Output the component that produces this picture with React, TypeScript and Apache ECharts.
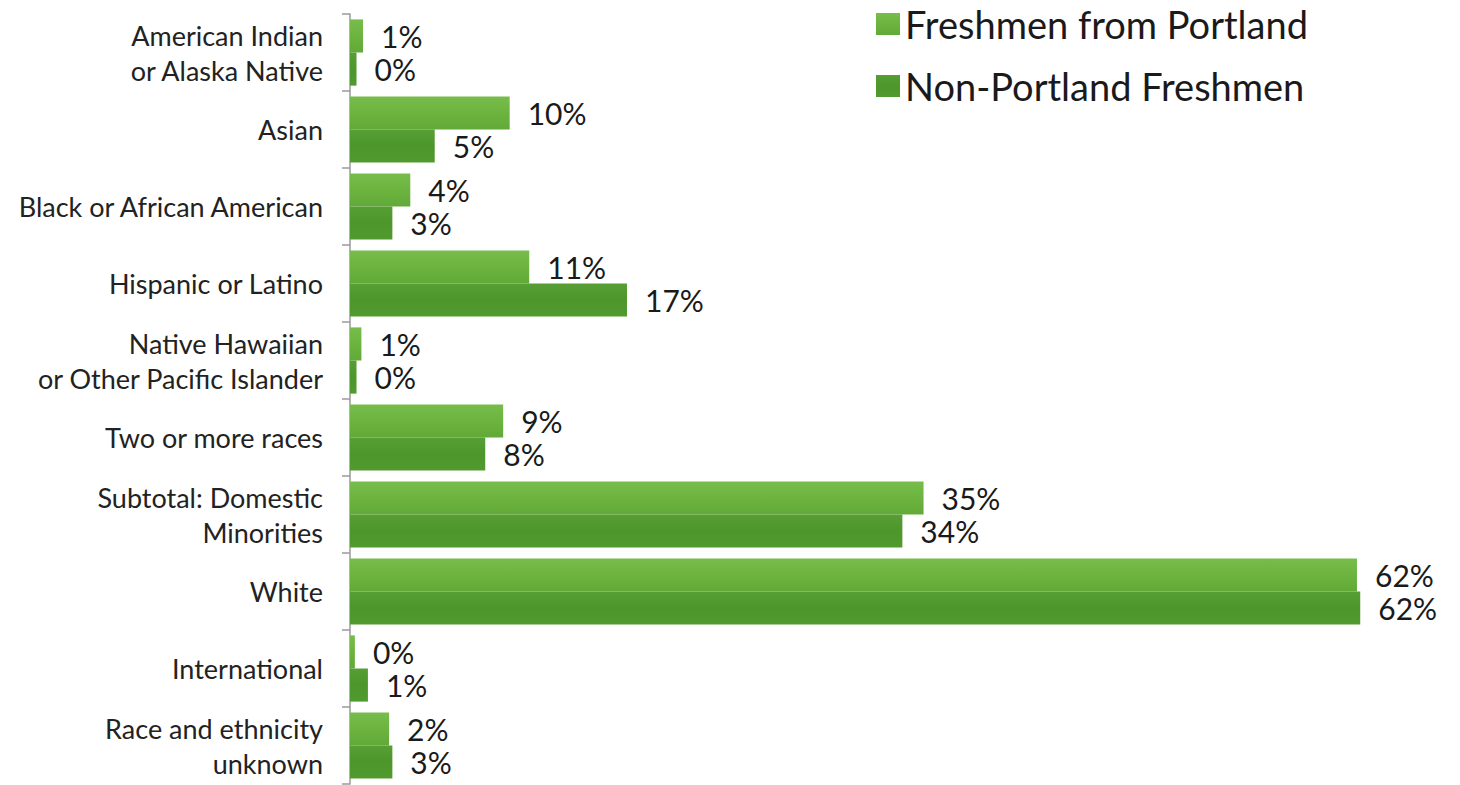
import React, { useEffect, useRef } from "react";
import * as echarts from "echarts";

const categories = [
  "American Indian\nor Alaska Native",
  "Asian",
  "Black or African American",
  "Hispanic or Latino",
  "Native Hawaiian\nor Other Pacific Islander",
  "Two or more races",
  "Subtotal: Domestic\nMinorities",
  "White",
  "International",
  "Race and ethnicity\nunknown",
];

const portland = [0.8, 9.8, 3.7, 11.0, 0.7, 9.4, 35.2, 61.8, 0.3, 2.4];
const nonPortland = [0.4, 5.2, 2.6, 17.0, 0.4, 8.3, 33.9, 62.0, 1.1, 2.6];

const seriesNames = ["Freshmen from Portland", "Non-Portland Freshmen"];

export default function App() {
  const ref = useRef<HTMLDivElement>(null);
  useEffect(() => {
    if (!ref.current) return;
    const chart = echarts.init(ref.current, null, { renderer: "svg" });
    const font = "Lato, 'Open Sans', sans-serif";
    const lightGrad = new echarts.graphic.LinearGradient(0, 0, 0, 1, [
      { offset: 0, color: "#78bd4c" },
      { offset: 0.5, color: "#6cb33f" },
      { offset: 1, color: "#62aa38" },
    ]);
    const darkGrad = new echarts.graphic.LinearGradient(0, 0, 0, 1, [
      { offset: 0, color: "#579f34" },
      { offset: 0.5, color: "#4d962c" },
      { offset: 1, color: "#519a2f" },
    ]);
    const label = {
      show: true,
      position: "right" as const,
      distance: 18,
      fontFamily: font,
      fontSize: 30,
      color: "#1a1a1a",
      formatter: (p: any) => Math.round(p.value) + "%",
    };
    chart.setOption({
      animation: false,
      backgroundColor: "#ffffff",
      grid: { left: 350, right: 2, top: 14, bottom: 1, containLabel: false },
      legend: {
        orient: "vertical",
        left: 871,
        top: 0,
        itemWidth: 24,
        itemHeight: 22,
        itemGap: 24,
        icon: "rect",
        textStyle: { fontFamily: font, fontSize: 38, lineHeight: 38, color: "#1a1a1a" },
        data: seriesNames,
      },
      xAxis: {
        type: "value",
        min: 0,
        max: 68,
        show: false,
      },
      yAxis: {
        type: "category",
        inverse: true,
        data: categories,
        axisLine: { show: true, lineStyle: { color: "#9a9a9a", width: 1.5 } },
        axisTick: { show: true, length: 8, lineStyle: { color: "#9a9a9a", width: 1.5 } },
        axisLabel: {
          margin: 27,
          fontFamily: font,
          fontSize: 27,
          lineHeight: 35,
          color: "#222222",
          align: "right",
        },
        splitLine: { show: false },
      },
      series: [
        {
          name: seriesNames[0],
          type: "bar",
          data: portland,
          barGap: "0%",
          barCategoryGap: "14%",
          itemStyle: { color: lightGrad },
          label: { ...label },
        },
        {
          name: seriesNames[1],
          type: "bar",
          data: nonPortland,
          barGap: "0%",
          barCategoryGap: "14%",
          itemStyle: { color: darkGrad },
          label: { ...label },
        },
      ],
    });
    return () => chart.dispose();
  }, []);
  return (
    <div
      ref={ref}
      style={{ position: "fixed", left: 0, top: 0, width: 1460, height: 785 }}
    />
  );
}
